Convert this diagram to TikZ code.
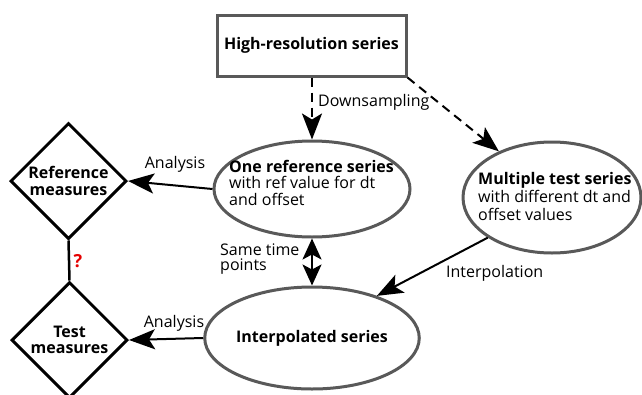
\documentclass[tikz,border=0pt]{standalone}
\usepackage{fontspec}
\setmainfont{Open Sans}
\usetikzlibrary{shapes.geometric,arrows.meta}
\begin{document}
\begin{tikzpicture}[x=1pt,y=-1pt,
  every node/.style={font=\fontsize{16}{17}\selectfont},
  ell/.style={ellipse,draw=black!65,line width=3pt,fill=white,inner sep=0pt},
  dia/.style={diamond,draw=black,line width=3pt,fill=white,inner sep=0pt,minimum width=116pt,minimum height=116pt},
  tip/.tip={Stealth[length=26pt,width=20pt,inset=6pt]},
  stip/.tip={Stealth[length=21pt,width=19pt,inset=5pt]},
  con/.style={line width=2pt,-tip},
  lbl/.style={inner sep=0pt,anchor=west,align=left}]
\useasboundingbox (0,0) rectangle (642,394);
\node[draw=black!65,line width=3pt,minimum width=189pt,minimum height=61pt,font=\fontsize{16}{17}\selectfont\bfseries] (hr) at (311.5,45.5) {High-resolution series};
\node[ell,minimum width=196pt,minimum height=96pt] (ref) at (312,189) {};
\node[lbl,anchor=north west,font=\fontsize{16}{16.5}\selectfont] at (229,160) {\textbf{One reference series}\\with ref value for dt\\and offset};
\node[ell,minimum width=178pt,minimum height=111pt] (mul) at (552,197.5) {};
\node[lbl,anchor=north west,font=\fontsize{16}{18}\selectfont] at (478,172) {\textbf{Multiple test series}\\with different dt and\\offset values};
\node[ell,minimum width=209pt,minimum height=102pt,font=\fontsize{16}{17}\selectfont\bfseries] (int) at (312,338) {Interpolated series};
\node[dia,align=center,font=\fontsize{16}{17}\selectfont\bfseries] (rm) at (68.5,181) {Reference\\measures};
\node[dia,align=center,font=\fontsize{16}{15.5}\selectfont\bfseries] (tm) at (69.5,340) {Test\\measures};
\draw[con,dash pattern=on 9pt off 6pt] (hr.south -| ref.north) -- (ref.north);
\draw[con,dash pattern=on 9pt off 6pt] (hr.south east) -- (mul.139);
\node[lbl] at (318,102) {Downsampling};
\draw[con] (ref.west) -- (rm.east);
\node[anchor=base] at (175,168) {Analysis};
\draw[con] (int.west) -- (tm.east);
\node[anchor=base] at (174,327) {Analysis};
\draw[line width=2pt,stip-stip] (ref.south) -- (int.north);
\node[lbl,anchor=north west] at (220,244) {Same time\\[-2pt]points};
\draw[con] (mul.-148) -- (int.33);
\node[lbl] at (446,273) {Interpolation};
\draw[line width=2.5pt] (rm.south) -- (tm.north);
\node[text=red!90!black,font=\fontsize{18}{20}\selectfont\bfseries] at (78,261) {?};
\end{tikzpicture}
\end{document}
